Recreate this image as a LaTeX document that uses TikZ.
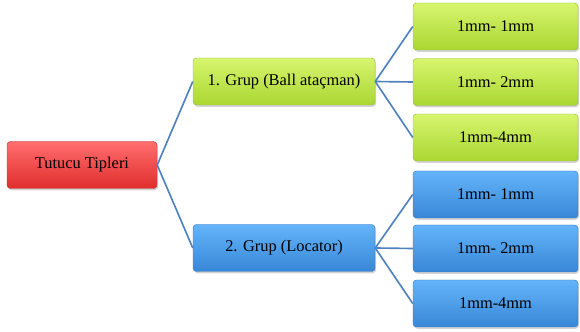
\documentclass[tikz,border=0pt]{standalone}
\usepackage{fontspec}
\setmainfont{Liberation Serif}
\usetikzlibrary{shadows}
\definecolor{LineBlue}{RGB}{79,129,189}
\definecolor{RedTop}{RGB}{255,110,110}
\definecolor{RedBot}{RGB}{225,45,45}
\definecolor{RedEdge}{RGB}{190,60,60}
\definecolor{GreenTop}{RGB}{215,245,110}
\definecolor{GreenBot}{RGB}{170,215,50}
\definecolor{GreenEdge}{RGB}{150,190,60}
\definecolor{BlueTop}{RGB}{100,180,250}
\definecolor{BlueBot}{RGB}{55,135,215}
\definecolor{BlueEdge}{RGB}{60,120,190}
\tikzset{
  box/.style={rounded corners=3pt,align=center,text=black,font=\rmfamily\fontsize{14}{16}\selectfont,minimum height=1.41cm,inner sep=2pt,drop shadow={opacity=.35,shadow xshift=1pt,shadow yshift=-1.5pt}},
  root/.style={box,draw=RedEdge,top color=RedTop,bottom color=RedBot,minimum width=4.5cm},
  lime/.style={box,draw=GreenEdge,top color=GreenTop,bottom color=GreenBot},
  sky/.style={box,draw=BlueEdge,top color=BlueTop,bottom color=BlueBot},
  group/.style={minimum width=5.46cm},
  leaf/.style={minimum width=4.95cm},
  link/.style={line width=1.4pt,draw=LineBlue}
}
\begin{document}
\begin{tikzpicture}[x=1cm,y=1cm]
  \useasboundingbox (0,0) rectangle (17.4,9.96);
  \node[root] (tutucu) at (2.46,5.01) {Tutucu Tipleri};
  \node[lime,group] (grup1) at (8.52,7.515) {1. Grup (Ball ata\c{c}man)};
  \node[sky,group] (grup2) at (8.52,2.52) {2. Grup (Locator)};
  % first group
  \node[lime,leaf] (ga) at (14.865,9.165) {1mm- 1mm};
  \node[lime,leaf] (gb) at (14.865,7.5) {1mm- 2mm};
  \node[lime,leaf] (gc) at (14.865,5.835) {1mm-4mm};
  % second group
  \node[sky,leaf] (ba) at (14.865,4.125) {1mm- 1mm};
  \node[sky,leaf] (bb) at (14.865,2.505) {1mm- 2mm};
  \node[sky,leaf] (bc) at (14.865,0.855) {1mm-4mm};
  \draw[link] (tutucu.east)--(grup1.west);
  \draw[link] (tutucu.east)--(grup2.west);
  \foreach \n in {ga,gb,gc} \draw[link] (grup1.east)--(\n.west);
  \foreach \n in {ba,bb,bc} \draw[link] (grup2.east)--(\n.west);
\end{tikzpicture}
\end{document}
